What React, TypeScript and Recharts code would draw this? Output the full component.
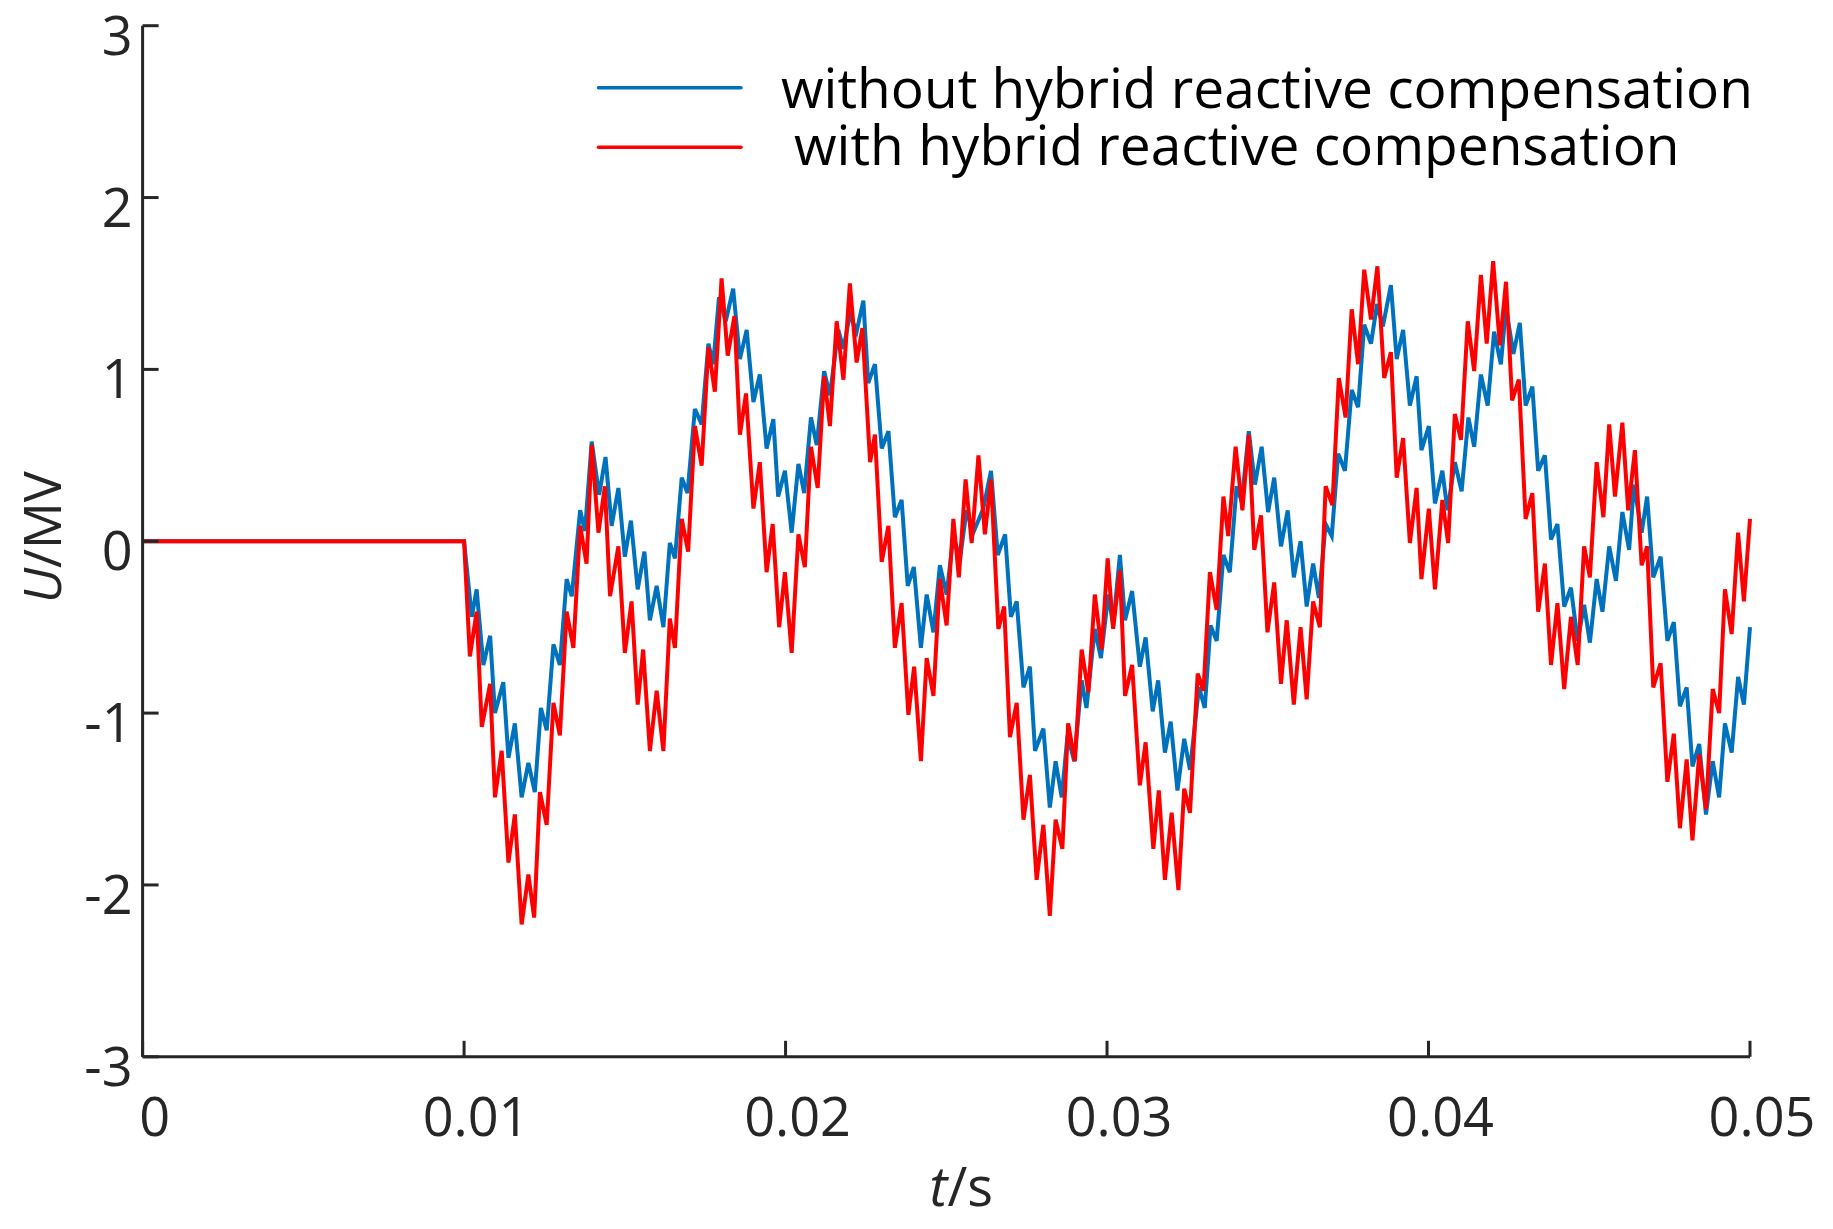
import { Label, Legend, Line, LineChart, XAxis, YAxis } from "recharts";

// time in ms, voltage in MV (ripple peaks / troughs)
const withoutComp: [number, number][] = [
  [0, 0], [10.0, 0],
  [10.24, -0.44], [10.39, -0.28], [10.6, -0.72], [10.81, -0.55], [10.96, -1.0], [11.22, -0.82], [11.38, -1.26], [11.58, -1.06],
  [11.79, -1.49], [12.0, -1.29], [12.2, -1.46], [12.39, -0.97], [12.57, -1.1], [12.78, -0.6], [12.98, -0.72], [13.19, -0.22],
  [13.35, -0.32], [13.61, 0.18], [13.76, 0.06], [13.97, 0.58], [14.2, 0.27], [14.4, 0.49], [14.59, 0.09], [14.8, 0.31],
  [15.0, -0.09], [15.19, 0.12], [15.4, -0.28], [15.61, -0.06], [15.78, -0.46], [15.99, -0.26], [16.2, -0.5], [16.4, -0.01],
  [16.56, -0.1], [16.77, 0.37], [16.95, 0.28], [17.18, 0.77], [17.39, 0.68], [17.6, 1.15], [17.75, 1.03], [17.93, 1.42],
  [18.14, 1.28], [18.37, 1.47], [18.58, 1.06], [18.79, 1.23], [19.0, 0.81], [19.2, 0.97], [19.41, 0.54], [19.62, 0.71],
  [19.77, 0.26], [19.98, 0.41], [20.19, 0.05], [20.4, 0.45], [20.58, 0.28], [20.79, 0.72], [20.97, 0.56], [21.2, 0.99],
  [21.38, 0.85], [21.64, 1.23], [21.8, 1.12], [22.0, 1.32], [22.21, 1.22], [22.42, 1.4], [22.57, 0.92], [22.78, 1.03],
  [22.99, 0.54], [23.2, 0.64], [23.4, 0.14], [23.61, 0.24], [23.8, -0.26], [23.99, -0.15], [24.21, -0.62], [24.39, -0.31],
  [24.6, -0.53], [24.8, -0.14], [25.01, -0.31], [25.22, 0.03], [25.43, -0.1], [25.63, 0.18], [25.84, 0.05], [26.15, 0.19],
  [26.39, 0.41], [26.6, -0.08], [26.83, 0.04], [27.01, -0.44], [27.19, -0.35], [27.4, -0.85], [27.6, -0.73], [27.76, -1.22],
  [28.02, -1.09], [28.22, -1.55], [28.4, -1.28], [28.59, -1.49], [28.77, -1.13], [28.98, -1.28], [29.21, -0.81], [29.36, -0.97],
  [29.62, -0.51], [29.81, -0.68], [30.04, -0.31], [30.19, -0.49], [30.4, -0.08], [30.56, -0.46], [30.78, -0.29], [31.02, -0.73],
  [31.2, -0.56], [31.42, -0.99], [31.59, -0.81], [31.8, -1.23], [31.98, -1.05], [32.19, -1.45], [32.4, -1.15], [32.58, -1.33],
  [32.86, -0.85], [33.04, -0.97], [33.22, -0.49], [33.41, -0.58], [33.62, -0.08], [33.82, -0.18], [34.03, 0.32], [34.19, 0.23],
  [34.41, 0.64], [34.6, 0.33], [34.81, 0.55], [35.01, 0.17], [35.2, 0.37], [35.41, -0.03], [35.62, 0.18], [35.81, -0.21],
  [36.02, 0.0], [36.21, -0.38], [36.41, -0.13], [36.59, -0.33], [36.8, 0.1], [36.99, 0.03], [37.19, 0.51], [37.4, 0.41],
  [37.61, 0.88], [37.81, 0.78], [38.0, 1.26], [38.21, 1.15], [38.4, 1.38], [38.58, 1.25], [38.83, 1.49], [39.01, 1.06],
  [39.21, 1.23], [39.42, 0.79], [39.63, 0.96], [39.78, 0.53], [40.01, 0.67], [40.2, 0.22], [40.43, 0.41], [40.59, 0.18],
  [40.82, 0.46], [41.03, 0.29], [41.24, 0.72], [41.42, 0.55], [41.63, 0.97], [41.84, 0.79], [42.04, 1.22], [42.25, 1.03],
  [42.41, 1.36], [42.64, 1.09], [42.84, 1.27], [43.02, 0.79], [43.23, 0.9], [43.41, 0.41], [43.62, 0.5], [43.81, 0.01],
  [44.01, 0.1], [44.22, -0.38], [44.43, -0.27], [44.64, -0.58], [44.84, -0.37], [45.02, -0.59], [45.23, -0.22], [45.41, -0.41],
  [45.62, -0.03], [45.83, -0.23], [46.03, 0.17], [46.24, -0.05], [46.39, 0.33], [46.63, 0.05], [46.8, 0.26], [46.99, -0.21],
  [47.22, -0.09], [47.43, -0.58], [47.63, -0.47], [47.82, -0.96], [48.03, -0.85], [48.21, -1.31], [48.42, -1.18], [48.63, -1.59],
  [48.84, -1.28], [49.04, -1.49], [49.22, -1.06], [49.43, -1.23], [49.63, -0.79], [49.81, -0.95], [50.0, -0.5],
];

const withComp: [number, number][] = [
  [0, 0], [10.0, 0],
  [10.18, -0.67], [10.39, -0.41], [10.55, -1.08], [10.81, -0.83], [10.96, -1.49], [11.17, -1.22], [11.38, -1.87], [11.58, -1.59],
  [11.79, -2.23], [12.0, -1.94], [12.18, -2.19], [12.36, -1.46], [12.57, -1.65], [12.78, -0.94], [12.98, -1.13], [13.19, -0.41],
  [13.4, -0.62], [13.61, 0.09], [13.81, -0.13], [13.97, 0.56], [14.18, 0.05], [14.38, 0.32], [14.54, -0.32], [14.8, -0.03],
  [15.0, -0.65], [15.21, -0.35], [15.4, -0.95], [15.57, -0.63], [15.78, -1.22], [15.99, -0.87], [16.2, -1.22], [16.4, -0.45],
  [16.56, -0.62], [16.77, 0.13], [16.97, -0.06], [17.18, 0.67], [17.39, 0.44], [17.6, 1.13], [17.8, 0.87], [18.01, 1.53],
  [18.2, 1.08], [18.41, 1.31], [18.58, 0.62], [18.77, 0.86], [19.0, 0.19], [19.2, 0.46], [19.41, -0.18], [19.6, 0.1],
  [19.8, -0.5], [19.98, -0.18], [20.19, -0.65], [20.4, 0.04], [20.6, -0.15], [20.79, 0.55], [21.0, 0.31], [21.2, 0.96],
  [21.38, 0.67], [21.59, 1.28], [21.8, 0.94], [22.0, 1.5], [22.21, 1.04], [22.39, 1.24], [22.63, 0.46], [22.78, 0.62],
  [22.99, -0.12], [23.2, 0.09], [23.4, -0.62], [23.61, -0.36], [23.82, -1.01], [24.0, -0.73], [24.21, -1.28], [24.39, -0.68],
  [24.6, -0.9], [24.8, -0.22], [25.01, -0.49], [25.22, 0.13], [25.39, -0.21], [25.6, 0.36], [25.79, -0.01], [26.0, 0.5],
  [26.2, 0.04], [26.39, 0.36], [26.62, -0.51], [26.8, -0.38], [26.98, -1.14], [27.19, -0.94], [27.4, -1.62], [27.6, -1.36],
  [27.81, -1.97], [28.02, -1.65], [28.22, -2.18], [28.4, -1.62], [28.61, -1.79], [28.79, -1.06], [29.0, -1.28], [29.21, -0.63],
  [29.42, -0.88], [29.62, -0.31], [29.83, -0.63], [30.02, -0.1], [30.19, -0.51], [30.4, -0.17], [30.56, -0.9], [30.78, -0.72],
  [31.02, -1.42], [31.2, -1.17], [31.44, -1.79], [31.61, -1.45], [31.8, -1.97], [32.01, -1.58], [32.22, -2.03], [32.4, -1.44],
  [32.58, -1.58], [32.82, -0.77], [33.0, -0.87], [33.2, -0.18], [33.41, -0.4], [33.62, 0.26], [33.77, 0.03], [34.0, 0.55],
  [34.21, 0.18], [34.41, 0.62], [34.58, -0.05], [34.79, 0.15], [34.99, -0.53], [35.2, -0.24], [35.41, -0.83], [35.59, -0.46],
  [35.81, -0.95], [36.02, -0.5], [36.21, -0.92], [36.41, -0.35], [36.62, -0.5], [36.8, 0.32], [37.01, 0.21], [37.21, 0.95],
  [37.42, 0.72], [37.61, 1.35], [37.81, 1.03], [38.0, 1.58], [38.21, 1.29], [38.41, 1.6], [38.62, 0.95], [38.83, 1.1],
  [39.01, 0.37], [39.21, 0.6], [39.42, -0.01], [39.63, 0.31], [39.78, -0.22], [40.01, 0.19], [40.2, -0.28], [40.43, 0.24],
  [40.61, -0.01], [40.82, 0.74], [41.01, 0.59], [41.22, 1.28], [41.42, 0.99], [41.63, 1.55], [41.81, 1.15], [42.01, 1.63],
  [42.22, 1.14], [42.41, 1.51], [42.6, 0.82], [42.81, 0.94], [43.02, 0.13], [43.23, 0.28], [43.41, -0.41], [43.62, -0.13],
  [43.81, -0.72], [44.01, -0.36], [44.22, -0.86], [44.43, -0.44], [44.64, -0.72], [44.84, -0.03], [45.02, -0.21], [45.23, 0.46],
  [45.44, 0.14], [45.62, 0.68], [45.8, 0.26], [46.03, 0.69], [46.21, 0.18], [46.42, 0.53], [46.63, -0.14], [46.8, -0.03],
  [46.99, -0.85], [47.22, -0.71], [47.43, -1.4], [47.63, -1.12], [47.82, -1.67], [48.03, -1.27], [48.21, -1.74], [48.42, -1.24],
  [48.63, -1.56], [48.84, -0.86], [49.04, -1.0], [49.22, -0.28], [49.43, -0.54], [49.63, 0.05], [49.81, -0.35], [50.0, 0.13],
];

const xTicks = [0, 0.01, 0.02, 0.03, 0.04, 0.05];
const yTicks = [-3, -2, -1, 0, 1, 2, 3];
const seriesNames = ["without hybrid reactive compensation", "with hybrid reactive compensation"];

const BLUE = "#0072BD";
const RED = "#FF0000";
const AXIS = "#262626";
const FONT = "'Open Sans', sans-serif";

const toRows = (pts: [number, number][]) => pts.map(([ms, u]) => ({ t: ms / 1000, u }));

function XTick(props: any) {
  const { x, y, payload } = props;
  return (
    <g>
      <line x1={x} x2={x} y1={y} y2={y - 16} stroke={AXIS} strokeWidth={3} />
      <text x={x + 12} y={y + 79} textAnchor="middle" fill={AXIS} fontSize={54} fontFamily={FONT}>
        {String(payload.value)}
      </text>
    </g>
  );
}

function YTick(props: any) {
  const { x, y, payload } = props;
  return (
    <g>
      <line x1={x} x2={x + 16} y1={y} y2={y} stroke={AXIS} strokeWidth={3} />
      <text x={x - 10} y={y + 29} textAnchor="end" fill={AXIS} fontSize={54} fontFamily={FONT}>
        {String(payload.value)}
      </text>
    </g>
  );
}

function LegendBox() {
  // own svg, offset from the page origin by (568, 48)
  return (
    <svg width={1200} height={140} style={{ display: "block" }}>
      <line x1={30.5} x2={173} y1={39.7} y2={39.7} stroke={BLUE} strokeWidth={3.5} strokeLinecap="round" />
      <text x={213} y={59.5} fontSize={55} fontFamily={FONT} fill="#000">{seriesNames[0]}</text>
      <line x1={30.5} x2={173} y1={99.3} y2={99.3} stroke={RED} strokeWidth={3.5} strokeLinecap="round" />
      <text x={226} y={117} fontSize={55} fontFamily={FONT} fill="#000">{seriesNames[1]}</text>
    </svg>
  );
}

export default function App() {
  return (
    <div style={{ position: "absolute", left: 0, top: 0, width: 1833, height: 1229 }}>
      <LineChart width={1833} height={1229} margin={{ top: 25.7, right: 83, bottom: 72.2, left: 42.6 }}>
        <XAxis
          type="number"
          dataKey="t"
          domain={[0, 0.05]}
          ticks={xTicks}
          interval={0}
          height={100}
          tickSize={0}
          tickMargin={0}
          tickLine={false}
          axisLine={{ stroke: AXIS, strokeWidth: 3 }}
          tick={<XTick />}
        >
          <Label
            content={(p: any) => {
              const vb = p.viewBox;
              return (
                <text x={vb.x + vb.width / 2 + 15} y={vb.y + 149} textAnchor="middle" fontSize={54} fontFamily={FONT} fill={AXIS}>
                  <tspan fontStyle="italic">t</tspan>/s
                </text>
              );
            }}
          />
        </XAxis>
        <YAxis
          type="number"
          domain={[-3, 3]}
          ticks={yTicks}
          interval={0}
          width={100}
          tickSize={0}
          tickMargin={0}
          tickLine={false}
          axisLine={{ stroke: AXIS, strokeWidth: 3 }}
          tick={<YTick />}
        >
          <Label
            content={(p: any) => {
              const vb = p.viewBox;
              const cx = vb.x + 18;
              const cy = vb.y + vb.height / 2 - 4;
              return (
                <text x={cx} y={cy} transform={`rotate(-90 ${cx} ${cy})`} textAnchor="middle" fontSize={52} fontFamily={FONT} fill={AXIS}>
                  <tspan fontStyle="italic">U</tspan>/MV
                </text>
              );
            }}
          />
        </YAxis>
        <Legend
          layout="vertical"
          align="center"
          verticalAlign="middle"
          wrapperStyle={{ position: "absolute", top: 48, left: 568, width: 1200 }}
          content={() => <LegendBox />}
        />
        <Line
          data={toRows(withoutComp)}
          dataKey="u"
          name={seriesNames[0]}
          stroke={BLUE}
          strokeWidth={4}
          dot={false}
          type="linear"
          isAnimationActive={false}
        />
        <Line
          data={toRows(withComp)}
          dataKey="u"
          name={seriesNames[1]}
          stroke={RED}
          strokeWidth={4}
          dot={false}
          type="linear"
          isAnimationActive={false}
        />
      </LineChart>
    </div>
  );
}
